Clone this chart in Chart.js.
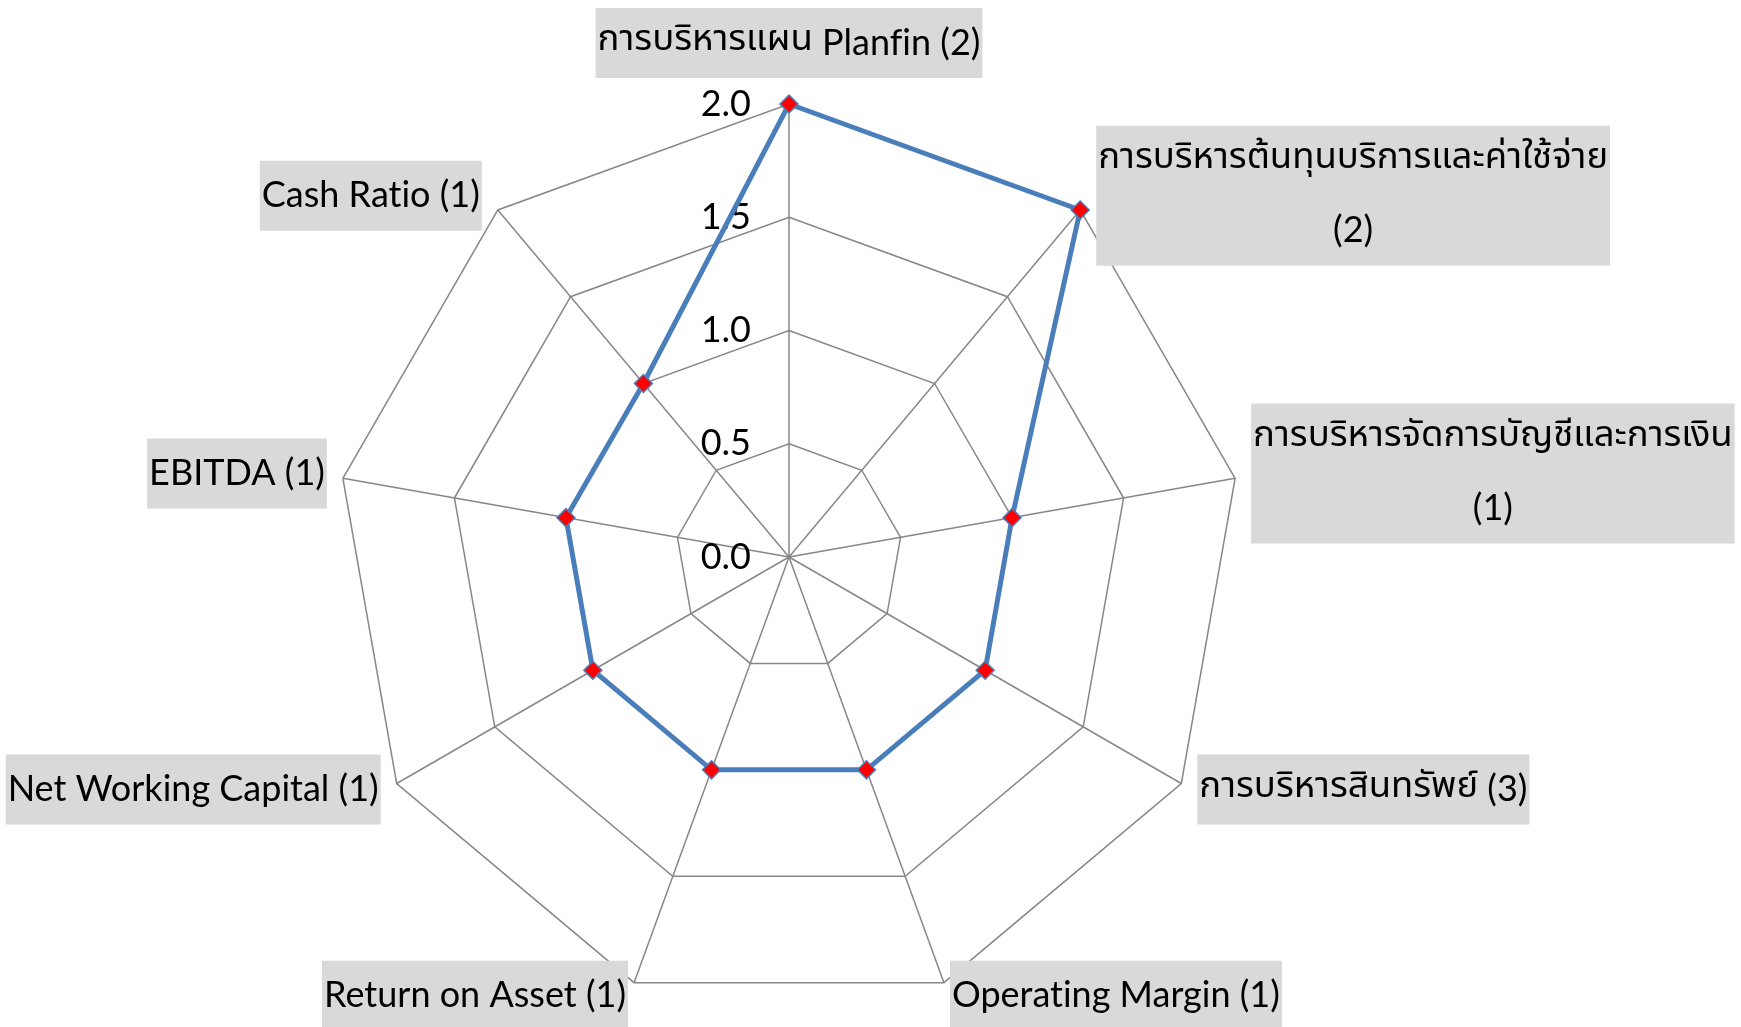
<!DOCTYPE html>
<html lang="th">
<head>
<meta charset="UTF-8">
<title>Radar</title>
<script src="https://cdn.jsdelivr.net/npm/chart.js@4.4.0/dist/chart.umd.min.js"></script>
<style>
* { margin: 0; padding: 0; box-sizing: border-box; }
body { background: #fff; }
.wrap { position: relative; width: 1741px; height: 1027px; }
</style>
</head>
<body>
<div class="wrap"><canvas id="radar"></canvas></div>
<script>
// data
const categories = [
    ['การบริหารแผน Planfin (2)'],
    ['การบริหารต้นทุนบริการและค่าใช้จ่าย', '(2)'],
    ['การบริหารจัดการบัญชีและการเงิน', '(1)'],
    ['การบริหารสินทรัพย์ (3)'],
    ['Operating Margin (1)'],
    ['Return on Asset (1)'],
    ['Net Working Capital (1)'],
    ['EBITDA (1)'],
    ['Cash Ratio (1)']
];
const scores = [2, 2, 1, 1, 1, 1, 1, 1, 1];
const tickValues = [0, 0.5, 1, 1.5, 2];

// Thai and Latin runs get their own font so both widths come out like the Excel one
const LATIN_FONT = '36px Lato, "Open Sans", sans-serif';
const THAI_FONT = '36.5px "Noto Sans Thai", "Noto Sans", sans-serif';
const LINE_H = 70;

function runsOf(text) {
    return text.split(/([\u0E00-\u0E7F]+)/).filter(t => t.length).map(t => ({
        text: t,
        font: /[\u0E00-\u0E7F]/.test(t) ? THAI_FONT : LATIN_FONT
    }));
}

function lineWidth(ctx, text) {
    let w = 0;
    runsOf(text).forEach(r => { ctx.font = r.font; w += ctx.measureText(r.text).width; });
    return w;
}

function drawLine(ctx, text, cx, cy) {
    let x = cx - lineWidth(ctx, text) / 2;
    ctx.textAlign = 'left';
    ctx.textBaseline = 'middle';
    runsOf(text).forEach(r => {
        ctx.font = r.font;
        ctx.fillText(r.text, x, cy);
        x += ctx.measureText(r.text).width;
    });
}

const labelPlugin = {
    id: 'excelLabels',
    beforeDatasetsDraw(chart) {
        const r = chart.scales.r;
        const ctx = chart.ctx;
        ctx.save();
        ctx.textRendering = 'optimizeSpeed'; // no fi / ti ligatures
        ctx.fillStyle = '#000';

        // tick labels, left of the vertical axis
        ctx.font = LATIN_FONT;
        ctx.textAlign = 'right';
        ctx.textBaseline = 'middle';
        tickValues.forEach(v => {
            const d = r.getDistanceFromCenterForValue(v);
            ctx.fillText(v.toFixed(1), r.xCenter - 38, r.yCenter - d);
        });

        // category labels with grey boxes
        categories.forEach((lines, i) => {
            const p = r.getPointPosition(i, r.drawingArea);
            const ang = i * 2 * Math.PI / categories.length;
            const s = Math.sin(ang), c = Math.cos(ang);
            const w = Math.max(...lines.map(t => lineWidth(ctx, t))) + 4;
            const h = lines.length * LINE_H;
            const gap = c < -0.8 ? 6 : 16;
            let left, top;
            if (Math.abs(s) < 0.05) {
                left = p.x - w / 2;
                top = p.y - 26 - h;
            } else {
                left = s > 0 ? p.x + gap : p.x - gap - w;
                top = p.y - 16 * c - 2 - h / 2;
            }
            ctx.fillStyle = '#d9d9d9';
            ctx.fillRect(left, top, w, h);
            ctx.fillStyle = '#000';
            lines.forEach((t, k) => drawLine(ctx, t, left + w / 2, top + LINE_H * k + LINE_H / 2));
        });
        ctx.restore();
    }
};

new Chart(document.getElementById('radar'), {
    type: 'radar',
    data: {
        labels: categories,
        datasets: [{
            data: scores,
            borderColor: '#4a7ebb',
            borderWidth: 5,
            fill: false,
            pointStyle: 'rectRot',
            pointRadius: 9,
            pointBackgroundColor: '#ff0000',
            pointBorderColor: '#4a7ebb',
            pointBorderWidth: 1.5
        }]
    },
    options: {
        responsive: true,
        maintainAspectRatio: false,
        animation: false,
        layout: { padding: { top: 104, bottom: 17, left: 0, right: 163 } },
        plugins: { legend: { display: false }, tooltip: { enabled: false } },
        scales: {
            r: {
                min: 0,
                max: 2,
                ticks: { stepSize: 0.5, display: false },
                pointLabels: { display: false },
                grid: { color: '#878787', lineWidth: 1.5 },
                angleLines: { color: '#878787', lineWidth: 1.5 }
            }
        }
    },
    plugins: [labelPlugin]
});
</script>
</body>
</html>
